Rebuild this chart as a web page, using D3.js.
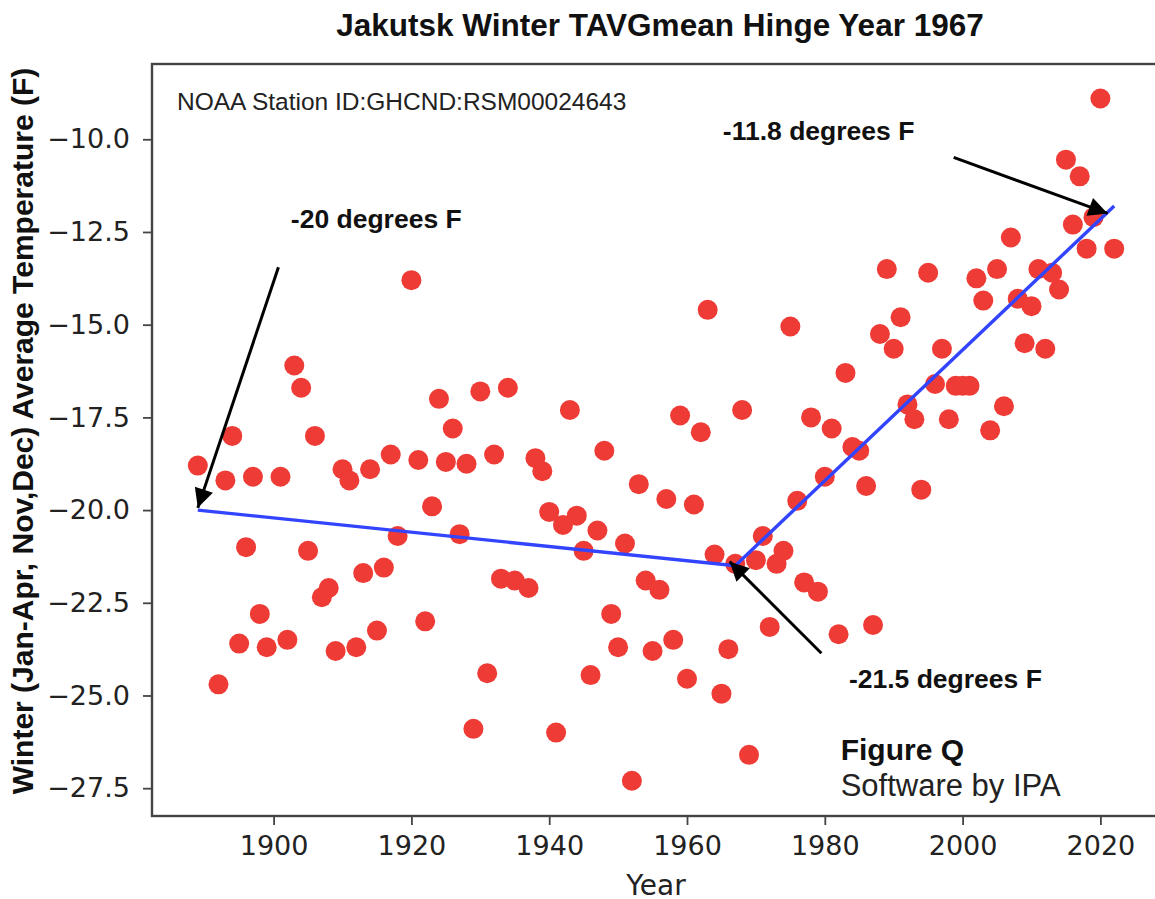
<!DOCTYPE html>
<html>
<head>
<meta charset="utf-8">
<script src="https://cdn.jsdelivr.net/npm/d3@7"></script>
<style>
  body { margin: 0; background: #fff; }
  svg { display: block; }
</style>
</head>
<body>
<svg id="chart" width="1155" height="899"></svg>
<script>
// winter mean temperatures
const years = [
  1889, 1892, 1893, 1894, 1895, 1896, 1897, 1898, 1899, 1901,
  1902, 1903, 1904, 1905, 1906, 1907, 1908, 1909, 1910, 1911,
  1912, 1913, 1914, 1915, 1916, 1917, 1918, 1920, 1921, 1922,
  1923, 1924, 1925, 1926, 1927, 1928, 1929, 1930, 1931, 1932,
  1933, 1934, 1935, 1937, 1938, 1939, 1940, 1941, 1942, 1943,
  1944, 1945, 1946, 1947, 1948, 1949, 1950, 1951, 1952, 1953,
  1954, 1955, 1956, 1957, 1958, 1959, 1960, 1961, 1962, 1963,
  1964, 1965, 1966, 1967, 1968, 1969, 1970, 1971, 1972, 1973,
  1974, 1975, 1976, 1977, 1978, 1979, 1980, 1981, 1982, 1983,
  1984, 1985, 1986, 1987, 1988, 1989, 1990, 1991, 1992, 1993,
  1994, 1995, 1996, 1997, 1998, 1999, 2000, 2001, 2002, 2003,
  2004, 2005, 2006, 2007, 2008, 2009, 2010, 2011, 2012, 2013,
  2014, 2015, 2016, 2017, 2018, 2019, 2020, 2022
];
const temps = [
  -18.8, -24.7, -19.2, -18.0, -23.6, -21.0, -19.1, -22.8, -23.7, -19.1,
  -23.5, -16.1, -16.7, -21.1, -18.0, -22.35, -22.1, -23.8, -18.9, -19.2,
  -23.7, -21.7, -18.9, -23.25, -21.55, -18.5, -20.7, -13.8, -18.65, -23.0,
  -19.9, -17.0, -18.7, -17.8, -20.65, -18.75, -25.9, -16.8, -24.4, -18.5,
  -21.85, -16.7, -21.9, -22.1, -18.6, -18.95, -20.05, -26.0, -20.4, -17.3,
  -20.15, -21.1, -24.45, -20.55, -18.4, -22.8, -23.7, -20.9, -27.3, -19.3,
  -21.9, -23.8, -22.15, -19.7, -23.5, -17.45, -24.55, -19.85, -17.9, -14.6,
  -21.2, -24.95, -23.75, -21.45, -17.3, -26.6, -21.35, -20.7, -23.15, -21.45,
  -21.1, -15.05, -19.75, -21.95, -17.5, -22.2, -19.1, -17.8, -23.35, -16.3,
  -18.3, -18.4, -19.35, -23.1, -15.25, -13.5, -15.65, -14.8, -17.15, -17.55,
  -19.45, -13.6, -16.6, -15.65, -17.55, -16.65, -16.65, -16.65, -13.75, -14.35,
  -17.85, -13.5, -17.2, -12.65, -14.3, -15.5, -14.5, -13.5, -15.65, -13.6,
  -14.05, -10.55, -12.3, -11.0, -12.95, -12.1, -8.9, -12.95
];

// hinge fit: start, hinge, end
const fitYears = [1889, 1967, 2022];
const fitTemps = [-20.0, -21.5, -11.8];

const xTicks = [1900, 1920, 1940, 1960, 1980, 2000, 2020];
const yTicks = [-10.0, -12.5, -15.0, -17.5, -20.0, -22.5, -25.0, -27.5];

// annotations in data coordinates: text anchor, arrow tail, arrow tip
const noteLabels = ["-20 degrees F", "-11.8 degrees F", "-21.5 degrees F"];
const noteText = [[1902.5, -12.4], [1965.2, -10.02], [1983.5, -24.8]];
const noteTail = [[1900.7, -13.45], [1998.7, -10.49], [1979.5, -23.86]];
const noteTip = [[1889.0, -19.94], [2021.05, -12.0], [1966.2, -21.39]];

const width = 1155;
const height = 899;
const margin = { top: 64, right: -5, bottom: 83, left: 152 };
const innerWidth = width - margin.left - margin.right;
const innerHeight = height - margin.top - margin.bottom;

const dotColor = "#ee3b36";
const fitColor = "#3344ff";
const spineColor = "#444";
const sans = "Liberation Sans, Arial, Helvetica, sans-serif";

const svg = d3.select("#chart");

svg.append("defs")
  .append("marker")
    .attr("id", "head")
    .attr("viewBox", "0 0 10 10")
    .attr("refX", 10)
    .attr("refY", 5)
    .attr("markerUnits", "userSpaceOnUse")
    .attr("markerWidth", 24)
    .attr("markerHeight", 19)
    .attr("orient", "auto")
  .append("path")
    .attr("d", "M0,0 L10,5 L0,10 Z")
    .attr("fill", "#000");

const xScale = d3.scaleLinear()
  .domain([1882.35, 2028.65])
  .range([0, innerWidth]);

const yScale = d3.scaleLinear()
  .domain([-28.25, -7.97])
  .range([innerHeight, 0]);

const innerChart = svg.append("g")
  .attr("transform", `translate(${margin.left},${margin.top})`);

// points
innerChart.append("g")
  .selectAll("circle")
  .data(years.map((y, i) => ({ year: y, temp: temps[i] })))
  .join("circle")
    .attr("cx", d => xScale(d.year))
    .attr("cy", d => yScale(d.temp))
    .attr("r", 10)
    .attr("fill", dotColor);

// hinge line
const line = d3.line()
  .x(d => xScale(d[0]))
  .y(d => yScale(d[1]));

innerChart.append("path")
  .datum(fitYears.map((y, i) => [y, fitTemps[i]]))
  .attr("d", line)
  .attr("fill", "none")
  .attr("stroke", fitColor)
  .attr("stroke-width", 3.4);

// arrows
noteTail.forEach((tail, i) => {
  const tip = noteTip[i];
  innerChart.append("line")
    .attr("x1", xScale(tail[0]))
    .attr("y1", yScale(tail[1]))
    .attr("x2", xScale(tip[0]))
    .attr("y2", yScale(tip[1]))
    .attr("stroke", "#000")
    .attr("stroke-width", 3)
    .attr("marker-end", "url(#head)");
});

innerChart.append("g")
  .selectAll("text")
  .data(noteLabels)
  .join("text")
    .attr("x", (d, i) => xScale(noteText[i][0]))
    .attr("y", (d, i) => yScale(noteText[i][1]))
    .attr("font-family", sans)
    .attr("font-weight", "bold")
    .attr("font-size", 26.5)
    .attr("fill", "#111")
    .text(d => d);

innerChart.append("text")
  .attr("x", xScale(1982.3))
  .attr("y", yScale(-26.74))
  .attr("font-family", sans)
  .attr("font-weight", "bold")
  .attr("font-size", 30)
  .attr("fill", "#111")
  .text("Figure Q");

innerChart.append("text")
  .attr("x", xScale(1982.3))
  .attr("y", yScale(-27.7))
  .attr("font-family", sans)
  .attr("font-size", 31)
  .attr("fill", "#222")
  .text("Software by IPA");

innerChart.append("text")
  .attr("x", 25)
  .attr("y", 46)
  .attr("font-family", sans)
  .attr("font-size", 24.5)
  .attr("fill", "#222")
  .text("NOAA Station ID:GHCND:RSM00024643");

// axes
const xAxis = d3.axisBottom(xScale)
  .tickValues(xTicks)
  .tickFormat(d3.format("d"))
  .tickSize(9)
  .tickPadding(11);

const yAxis = d3.axisLeft(yScale)
  .tickValues(yTicks)
  .tickFormat(d => d3.format(".1f")(d).replace("-", "\u2212"))
  .tickSize(9)
  .tickPadding(13);

const styleAxis = g => {
  g.select(".domain").remove();
  g.selectAll(".tick line")
    .attr("stroke", spineColor)
    .attr("stroke-width", 1.8);
  g.selectAll(".tick text")
    .attr("font-family", "DejaVu Sans, sans-serif")
    .attr("font-size", 27)
    .attr("fill", "#222");
};

innerChart.append("g")
  .attr("transform", `translate(0,${innerHeight})`)
  .call(xAxis)
  .call(styleAxis);

innerChart.append("g")
  .call(yAxis)
  .call(styleAxis);

innerChart.append("rect")
  .attr("width", innerWidth)
  .attr("height", innerHeight)
  .attr("fill", "none")
  .attr("stroke", spineColor)
  .attr("stroke-width", 2.4);

// titles
svg.append("text")
  .attr("x", 660)
  .attr("y", 36)
  .attr("text-anchor", "middle")
  .attr("font-family", sans)
  .attr("font-weight", "bold")
  .attr("font-size", 31.5)
  .attr("fill", "#111")
  .text("Jakutsk Winter TAVGmean Hinge Year 1967");

svg.append("text")
  .attr("x", margin.left + xScale(1955.5))
  .attr("y", 895)
  .attr("text-anchor", "middle")
  .attr("font-family", "DejaVu Sans, sans-serif")
  .attr("font-size", 28)
  .attr("fill", "#222")
  .text("Year");

svg.append("text")
  .attr("transform", "translate(33,431) rotate(-90)")
  .attr("text-anchor", "middle")
  .attr("font-family", sans)
  .attr("font-weight", "bold")
  .attr("font-size", 30)
  .attr("fill", "#111")
  .text("Winter (Jan-Apr, Nov,Dec) Average Temperature (F)");
</script>
</body>
</html>
